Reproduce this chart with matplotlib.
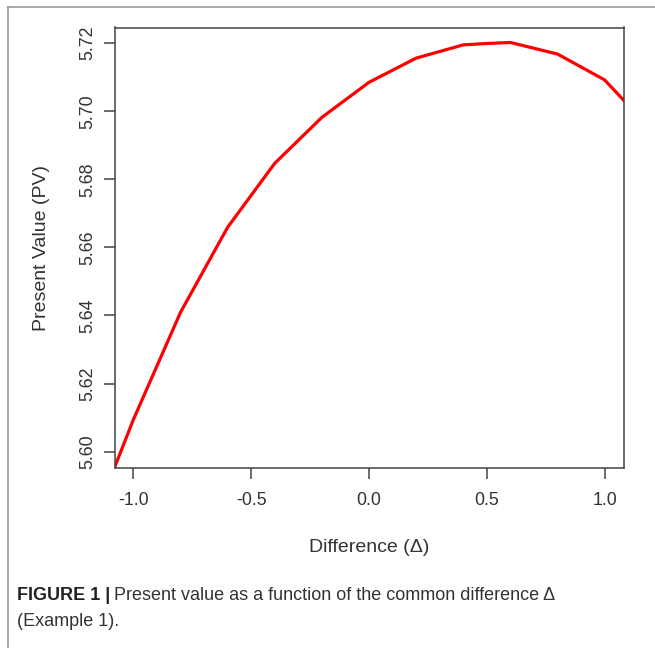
import numpy as np
import matplotlib
matplotlib.use("Agg")
import matplotlib.pyplot as plt
from matplotlib.lines import Line2D

plt.rcParams['font.family'] = ['Liberation Sans', 'DejaVu Sans']
plt.rcParams['axes.unicode_minus'] = False

# values (kinks every 0.2, ends run past the frame)
delta = [-1.1, -1.0, -0.8, -0.6, -0.4, -0.2, 0.0, 0.2, 0.4, 0.5, 0.6, 0.8, 1.0, 1.1]
pv = [5.5918, 5.6094, 5.6409, 5.6659, 5.6847, 5.6982, 5.7085, 5.7156,
      5.7195, 5.7199, 5.7202, 5.7168, 5.7092, 5.7018]

xticks = [-1.0, -0.5, 0.0, 0.5, 1.0]
yticks = [5.60, 5.62, 5.64, 5.66, 5.68, 5.70, 5.72]

W, H = 655, 648
fig = plt.figure(figsize=(W / 100, H / 100), dpi=100)

def fx(px):
    return px / W

def fy(py):
    return 1 - py / H

ax = fig.add_axes([fx(114.5), fy(468), fx(623.5) - fx(114.5), fy(27.5) - fy(468)])
ax.plot(delta, pv, color='#ff0000', lw=2.3, solid_joinstyle='miter')
ax.set_xlim(-1.08, 1.08)
ax.set_ylim(5.5952, 5.7246)

ax.set_xticks(xticks)
ax.set_xticklabels(['%.1f' % t for t in xticks])
ax.set_yticks(yticks)
ax.set_yticklabels(['%.2f' % t for t in yticks], rotation=90, va='center')

for s in ax.spines.values():
    s.set_color('#444444')
    s.set_linewidth(1.1)
ax.tick_params(direction='out', length=8, width=1.1, color='#444444',
               labelsize=12.8, labelcolor='#333333')
ax.tick_params(axis='x', pad=9)
ax.tick_params(axis='y', pad=5)

fig.text(fx(369), fy(547), 'Difference (Δ)', ha='center', va='center',
         fontsize=14, color='#333333')
fig.text(fx(42), fy(248), 'Present Value (PV)', ha='center', va='center',
         rotation=90, fontsize=14, color='#333333')

# caption
t1 = fig.text(fx(17), fy(596), 'FIGURE 1 |', ha='left', va='center',
              fontsize=13, fontweight='bold', color='#222222')
fig.canvas.draw()
bb = t1.get_window_extent()
fig.text(bb.x1 / W + 0.005, fy(596), 'Present value as a function of the common difference Δ',
         ha='left', va='center', fontsize=13, color='#333333')
fig.text(fx(17), fy(621), '(Example 1).', ha='left', va='center',
         fontsize=13, color='#333333')

# outer frame (left and top edges only)
fig.add_artist(Line2D([fx(8), fx(8)], [0, fy(7)], color='#999999', lw=1.2))
fig.add_artist(Line2D([fx(8), 1], [fy(7), fy(7)], color='#999999', lw=1.2))

fig.savefig('out.png', dpi=100)
